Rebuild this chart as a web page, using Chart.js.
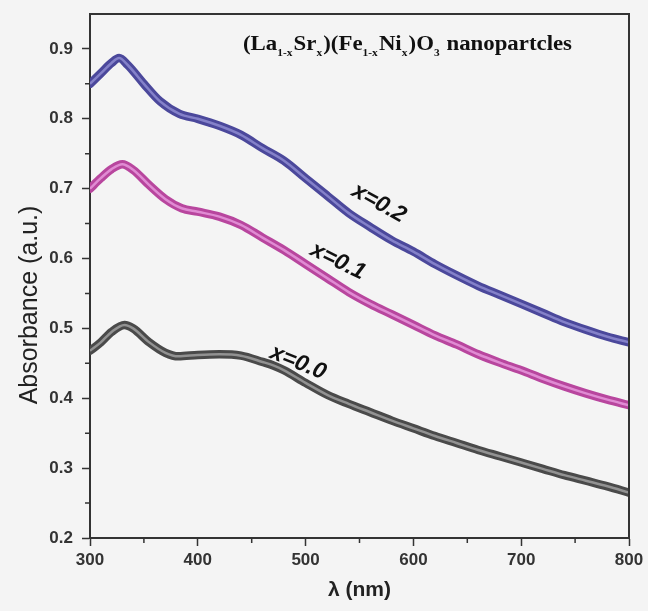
<!DOCTYPE html>
<html><head><meta charset="utf-8">
<script src="https://cdn.jsdelivr.net/npm/chart.js@4.4.1/dist/chart.umd.min.js"></script>
<style>html,body{margin:0;padding:0;background:#f4f4f4;}#wrap{width:648px;height:611px;}</style>
</head><body><div id="wrap"><canvas id="c" width="648" height="611"></canvas></div>
<script>
// ---- data ----
const wl00 = [300,310,320,332,340,355,370,382,400,420,440,460,470,480,500,520,540,560,580,600,620,640,660,680,700,720,740,760,780,800];
const abs00 = [0.468,0.480,0.495,0.505,0.500,0.480,0.465,0.460,0.462,0.463,0.461,0.452,0.447,0.440,0.422,0.405,0.392,0.380,0.368,0.357,0.346,0.336,0.326,0.317,0.308,0.299,0.290,0.282,0.274,0.265];
const wl01 = [300,310,320,330,340,355,370,385,400,420,440,460,480,500,520,540,560,580,600,620,640,660,680,700,720,740,760,780,800];
const abs01 = [0.700,0.715,0.728,0.735,0.727,0.705,0.685,0.672,0.667,0.660,0.648,0.630,0.612,0.592,0.572,0.552,0.535,0.520,0.505,0.490,0.477,0.463,0.451,0.440,0.428,0.417,0.407,0.398,0.390];
const wl02 = [300,310,320,327,335,350,365,383,400,420,440,460,480,500,520,540,560,580,600,620,640,660,680,700,720,740,760,780,800];
const abs02 = [0.850,0.865,0.880,0.887,0.877,0.850,0.825,0.807,0.800,0.790,0.777,0.758,0.740,0.715,0.690,0.665,0.645,0.626,0.610,0.592,0.576,0.561,0.548,0.535,0.522,0.509,0.498,0.488,0.480];
const seriesLabels = ['x=0.0','x=0.1','x=0.2'];
const xTicks = [300,400,500,600,700,800];
const xMinor = [350,450,550,650,750];
const yTicks = [0.2,0.3,0.4,0.5,0.6,0.7,0.8,0.9];
const yMinor = [0.25,0.35,0.45,0.55,0.65,0.75,0.85];
const labelX = [493,530,568];
const labelY = [0.451,0.596,0.679];
const labelAngle = [22,26,29];

const outline = ['#4a4a4a','#b8469e','#4b489b'];
const inner = ['#929292','#e08bd3','#8481c9'];

function pts(w,a){ return w.map((v,i)=>({x:v,y:a[i]})); }
const series = [pts(wl00,abs00), pts(wl01,abs01), pts(wl02,abs02)];

const datasets = [];
series.forEach((d,i)=>{
  datasets.push({label:seriesLabels[i], data:d, borderColor:outline[i], borderWidth:8.5, pointRadius:0, fill:false, cubicInterpolationMode:'monotone', order:2, borderCapStyle:'round', borderJoinStyle:'round'});
  datasets.push({label:seriesLabels[i]+' core', data:d, borderColor:inner[i], borderWidth:2.5, pointRadius:0, fill:false, cubicInterpolationMode:'monotone', order:1});
});

const framePlugin = {
  id:'frame',
  beforeDraw(chart){
    const ctx = chart.ctx; ctx.save(); ctx.fillStyle='#f4f4f4'; ctx.fillRect(0,0,chart.width,chart.height); ctx.restore();
  },
  afterDraw(chart){
    const {ctx, chartArea:a, scales} = chart;
    ctx.save();
    ctx.strokeStyle='#333'; ctx.lineWidth=2;
    ctx.beginPath();
    ctx.moveTo(a.left,a.top); ctx.lineTo(a.right,a.top); ctx.lineTo(a.right,a.bottom);
    ctx.stroke();
    ctx.lineWidth=1.5;
    ctx.beginPath();
    yMinor.forEach(v=>{ const y=scales.y.getPixelForValue(v); ctx.moveTo(a.left-5,y); ctx.lineTo(a.left,y); });
    xMinor.forEach(v=>{ const x=scales.x.getPixelForValue(v); ctx.moveTo(x,a.bottom); ctx.lineTo(x,a.bottom+5); });
    ctx.stroke();
    // y axis title
    ctx.fillStyle='#222';
    ctx.font='25px Arial, "Liberation Sans", sans-serif';
    ctx.textAlign='center'; ctx.textBaseline='middle';
    ctx.save(); ctx.translate(30,305); ctx.rotate(-Math.PI/2); ctx.fillText('Absorbance (a.u.)',0,0); ctx.restore();
    // series labels
    ctx.fillStyle='#111';
    ctx.font='italic bold 23px Arial, "Liberation Sans", sans-serif';
    seriesLabels.forEach((t,i)=>{
      const x=scales.x.getPixelForValue(labelX[i]); const y=scales.y.getPixelForValue(labelY[i]);
      ctx.save(); ctx.translate(x,y); ctx.rotate(labelAngle[i]*Math.PI/180); ctx.fillText(t,0,0); ctx.restore();
    });
    // title with subscripts
    const parts = [['(La',0],['1-x',1],['Sr',0],['x',1],[')(Fe',0],['1-x',1],['Ni',0],['x',1],[')O',0],['3',1],[' nanopartcles',0]];
    const big='bold 20px "Liberation Serif", "Times New Roman", serif';
    const small='bold 10px "Liberation Serif", "Times New Roman", serif';
    ctx.textAlign='left'; ctx.textBaseline='alphabetic';
    let w=0;
    parts.forEach(p=>{ ctx.font=p[1]?small:big; w+=ctx.measureText(p[0]).width + (p[1]?1:0); });
    const sx = 329/w;
    ctx.save(); ctx.translate(243,50); ctx.scale(sx,1);
    let cx=0;
    parts.forEach(p=>{ ctx.font=p[1]?small:big; ctx.fillText(p[0],cx,p[1]?6:0); cx+=ctx.measureText(p[0]).width+(p[1]?1:0); });
    ctx.restore();
    ctx.restore();
  }
};

new Chart(document.getElementById('c'), {
  type:'line',
  data:{datasets},
  options:{
    responsive:false, animation:false,
    layout:{padding:{top:14,right:19,left:0,bottom:0}},
    plugins:{legend:{display:false}, tooltip:{enabled:false}},
    scales:{
      x:{type:'linear', min:300, max:800,
        afterBuildTicks(s){ s.ticks = xTicks.map(v=>({value:v})); },
        afterFit(s){ s.height = 73; s.paddingLeft = 0; s.paddingRight = 0; },
        grid:{drawOnChartArea:false, tickLength:8, tickColor:'#333', tickWidth:1.5},
        border:{display:true, color:'#333', width:2},
        ticks:{color:'#333', font:{family:'Arial, "Liberation Sans", sans-serif', size:17, weight:'bold'}, padding:4, maxRotation:0, autoSkip:false},
        title:{display:true, text:'λ (nm)', color:'#222', font:{family:'Arial, "Liberation Sans", sans-serif', size:21, weight:'bold'}, padding:{top:0,bottom:8}}
      },
      y:{type:'linear', min:0.2, max:0.95,
        afterBuildTicks(s){ s.ticks = yTicks.map(v=>({value:v})); },
        afterFit(s){ s.width = 90; s.paddingTop = 0; s.paddingBottom = 0; },
        grid:{drawOnChartArea:false, tickLength:8, tickColor:'#333', tickWidth:1.5},
        border:{display:true, color:'#333', width:2},
        ticks:{color:'#333', font:{family:'Arial, "Liberation Sans", sans-serif', size:17, weight:'bold'}, padding:9, callback:v=>v.toFixed(1), autoSkip:false},
        title:{display:false, text:'Absorbance (a.u.)'}
      }
    }
  },
  plugins:[framePlugin]
});
</script>
</body></html>
